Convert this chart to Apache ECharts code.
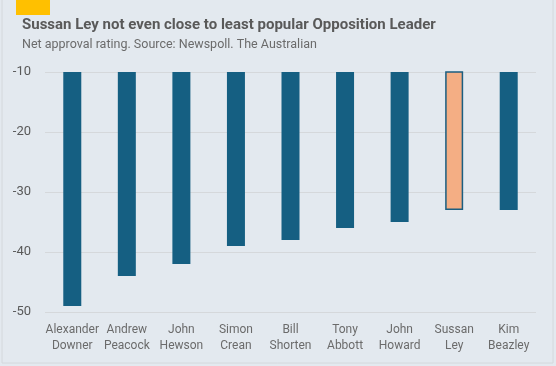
<!DOCTYPE html>
<html>
<head>
<meta charset="utf-8">
<script src="https://cdn.jsdelivr.net/npm/echarts@6/dist/echarts.min.js"></script>
<style>
html,body{margin:0;padding:0;background:#fff;}
#c{width:556px;height:366px;}
</style>
</head>
<body>
<div id="c"></div>
<script>
const titleText = 'Sussan Ley not even close to least popular Opposition Leader';
const subtitleText = 'Net approval rating. Source: Newspoll. The Australian';
const categories = ['Alexander\nDowner','Andrew\nPeacock','John\nHewson','Simon\nCrean','Bill\nShorten','Tony\nAbbott','John\nHoward','Sussan\nLey','Kim\nBeazley'];
const values = [-49, -44, -42, -39, -38, -36, -35, -33, -33];
const highlightName = 'Sussan\nLey';

const chart = echarts.init(document.getElementById('c'), null, {renderer: 'canvas'});
const data = categories.map((c, i) => c === highlightName
  ? {value: values[i], itemStyle: {color: '#f4ae84', borderColor: '#1b5e80', borderWidth: 1.5}}
  : values[i]);

chart.setOption({
  backgroundColor: '#e3e9ef',
  animation: false,
  graphic: [
    {type: 'rect', shape: {x: 2, y: -1, width: 551, height: 364}, style: {fill: 'none', stroke: '#d4d8dc', lineWidth: 1}, silent: true},
    {type: 'rect', shape: {x: 16, y: 0, width: 34, height: 15}, style: {fill: '#ffc000'}},
    {type: 'text', left: 22, top: 18, style: {text: titleText, font: 'bold 15px Roboto', fill: '#595959'}},
    {type: 'text', left: 22, top: 38, style: {text: subtitleText, font: '12.5px Roboto', fill: '#6b6b6b'}}
  ],
  grid: {left: 45, right: 20, top: 72, bottom: 54, containLabel: false},
  xAxis: {
    type: 'category',
    data: categories,
    axisLine: {show: false},
    axisTick: {show: false},
    axisLabel: {color: '#6b6b6b', fontFamily: 'Roboto', fontSize: 12, lineHeight: 16, margin: 10, interval: 0}
  },
  yAxis: {
    type: 'value',
    min: -50, max: -10, interval: 10,
    axisLine: {show: false},
    axisTick: {show: false},
    splitLine: {lineStyle: {color: '#d5d8db', width: 1}},
    axisLabel: {color: '#595959', fontFamily: 'Roboto', fontSize: 13, margin: 14}
  },
  series: [{
    type: 'bar',
    data: data,
    barWidth: 18,
    clip: true,
    itemStyle: {color: '#155f82'}
  }]
});
</script>
</body>
</html>
